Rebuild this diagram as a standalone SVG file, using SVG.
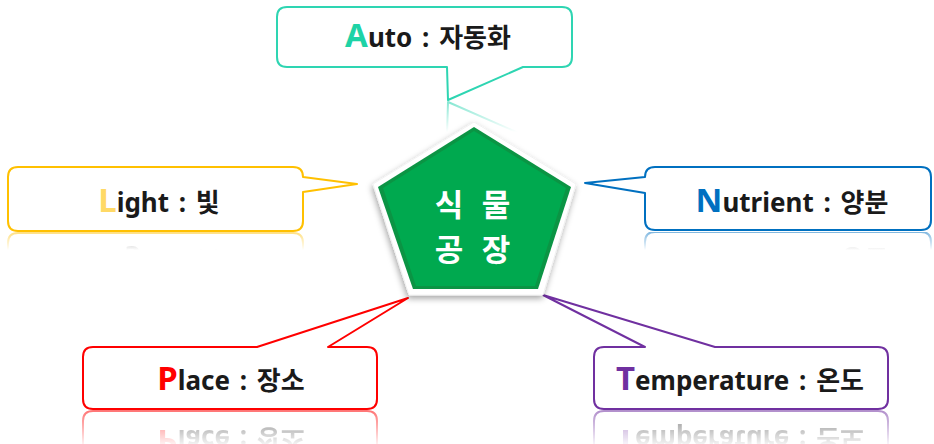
<svg xmlns="http://www.w3.org/2000/svg" xmlns:xlink="http://www.w3.org/1999/xlink" width="934" height="444" viewBox="0 0 934 444">
<style>
  .box { fill: #ffffff; stroke-width: 2; stroke-linejoin: round; }
  .lbl { font-family: "Noto Sans", "Noto Sans CJK KR", sans-serif; font-weight: bold; font-size: 26px; fill: #1a1a1a; text-anchor: middle; word-spacing: 3px; }
  .big { font-size: 33px; }
  .core { font-family: "Noto Sans CJK KR", sans-serif; font-weight: bold; font-size: 31px; fill: #ffffff; text-anchor: middle; }
</style>
<defs>
  <filter id="shadow" x="-20%" y="-20%" width="140%" height="150%">
    <feDropShadow dx="-1" dy="3" stdDeviation="3" flood-color="#000" flood-opacity="0.35"/>
  </filter>
  <linearGradient id="gA" gradientUnits="userSpaceOnUse" x1="0" y1="101" x2="0" y2="132">
    <stop offset="0" stop-color="#fff" stop-opacity="0.6"/><stop offset="1" stop-color="#fff" stop-opacity="0"/>
  </linearGradient>
  <linearGradient id="gL" gradientUnits="userSpaceOnUse" x1="0" y1="232" x2="0" y2="250">
    <stop offset="0" stop-color="#fff" stop-opacity="0.5"/><stop offset="1" stop-color="#fff" stop-opacity="0"/>
  </linearGradient>
  <linearGradient id="gP" gradientUnits="userSpaceOnUse" x1="0" y1="410" x2="0" y2="448">
    <stop offset="0" stop-color="#fff" stop-opacity="0.55"/><stop offset="1" stop-color="#fff" stop-opacity="0"/>
  </linearGradient>
  <mask id="mA" maskUnits="userSpaceOnUse" x="0" y="0" width="934" height="444"><rect x="0" y="101" width="934" height="31" fill="url(#gA)"/></mask>
  <mask id="mL" maskUnits="userSpaceOnUse" x="0" y="0" width="934" height="444"><rect x="0" y="232" width="934" height="20" fill="url(#gL)"/></mask>
  <mask id="mP" maskUnits="userSpaceOnUse" x="0" y="0" width="934" height="444"><rect x="0" y="410" width="934" height="40" fill="url(#gP)"/></mask>
</defs>

<g id="node-auto">
  <g id="auto-shape">
    <path class="box" stroke="#2ED5B2" d="M287,7 H562 Q572,7 572,17 V57 Q572,67 562,67 H523 L448,100 L447,67 H287 Q277,67 277,57 V17 Q277,7 287,7 Z"/>
    <text class="lbl" x="428" y="47"><tspan class="big" fill="#1ED3A6">A</tspan>uto : 자동화</text>
  </g>
  <g mask="url(#mA)"><use xlink:href="#auto-shape" transform="translate(0,202) scale(1,-1)"/></g>
</g>

<g id="node-light">
  <g id="light-shape">
    <path class="box" stroke="#FFC000" d="M18,167 H293 Q303,167 303,177 L357,184 L303,192 V221 Q303,231 293,231 H18 Q8,231 8,221 V177 Q8,167 18,167 Z"/>
    <text class="lbl" x="159" y="212"><tspan class="big" fill="#FFD966">L</tspan>ight : 빛</text>
  </g>
  <g mask="url(#mL)"><use xlink:href="#light-shape" transform="translate(0,464) scale(1,-1)"/></g>
</g>

<g id="node-nutrient">
  <g id="nutrient-shape">
    <path class="box" stroke="#0070C0" d="M655,167 H921 Q931,167 931,177 V220 Q931,230 921,230 H655 Q645,230 645,220 V193 L585,183 L645,177 Q645,167 655,167 Z"/>
    <text class="lbl" x="792" y="212"><tspan class="big" fill="#0070C0">N</tspan>utrient : 양분</text>
  </g>
  <g mask="url(#mL)"><use xlink:href="#nutrient-shape" transform="translate(0,462) scale(1,-1)"/></g>
</g>

<g id="node-place">
  <g id="place-shape">
    <path class="box" stroke="#FF0000" d="M93,347 H257 L408,298 L328,347 H367 Q377,347 377,357 V399 Q377,409 367,409 H93 Q83,409 83,399 V357 Q83,347 93,347 Z"/>
    <text class="lbl" x="231" y="390"><tspan class="big" fill="#FF0000">P</tspan>lace : 장소</text>
  </g>
  <g mask="url(#mP)"><use xlink:href="#place-shape" transform="translate(0,820) scale(1,-1)"/></g>
</g>

<g id="node-temperature">
  <g id="temperature-shape">
    <path class="box" stroke="#7030A0" d="M604,347 H645 L543,295 L715,347 H878 Q888,347 888,357 V399 Q888,409 878,409 H604 Q594,409 594,399 V357 Q594,347 604,347 Z"/>
    <text class="lbl" x="740" y="390"><tspan class="big" fill="#7030A0">T</tspan>emperature : 온도</text>
  </g>
  <g mask="url(#mP)"><use xlink:href="#temperature-shape" transform="translate(0,820) scale(1,-1)"/></g>
</g>

<g id="node-core">
  <polygon points="474,122 576,184 543,295 409,295 373,184" fill="#ffffff" stroke="#f2f2f2" stroke-width="1" filter="url(#shadow)"/>
  <polygon points="474,127 571,187 538,289 413,289 378,187" fill="#0B9444"/>
  <polygon points="474,131 566,188 535,286 416,286 383,188" fill="#00A94F"/>
  <text class="core" x="449" y="216">식</text>
  <text class="core" x="496" y="216">물</text>
  <text class="core" x="449" y="261">공</text>
  <text class="core" x="496" y="261">장</text>
</g>
</svg>
